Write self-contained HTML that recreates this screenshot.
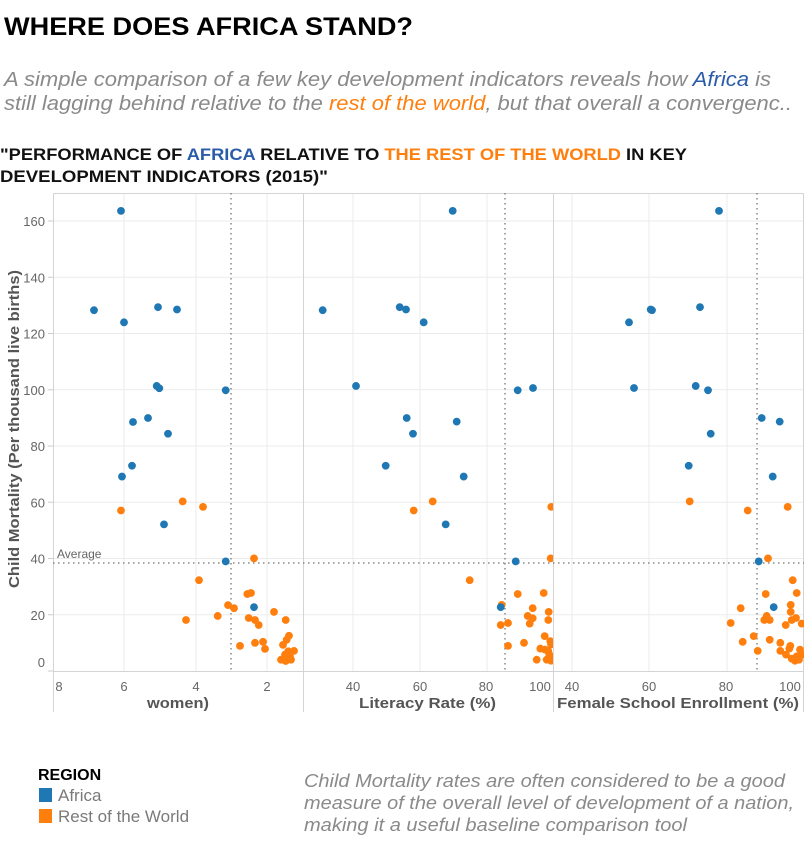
<!DOCTYPE html>
<html><head><meta charset="utf-8"><style>
html,body{margin:0;padding:0;background:#fff;}
svg{display:block;font-family:"Liberation Sans",Arial,sans-serif;}
</style></head><body>
<svg id="s" width="804" height="846" viewBox="0 0 804 846" xmlns="http://www.w3.org/2000/svg">
<defs>
<clipPath id="c1"><rect x="53" y="193" width="250" height="479"/></clipPath>
<clipPath id="c2"><rect x="303" y="193" width="250" height="479"/></clipPath>
<clipPath id="c3"><rect x="553" y="193" width="251" height="479"/></clipPath>
</defs>
<text x="4" y="35" font-size="25" font-weight="bold" fill="#000" textLength="409" lengthAdjust="spacingAndGlyphs">WHERE DOES AFRICA STAND?</text>
<text x="4" y="86" font-size="20" font-style="italic" fill="#8a8a8a" textLength="767" lengthAdjust="spacingAndGlyphs">A simple comparison of a few key development indicators reveals how <tspan fill="#2a5caa">Africa</tspan> is</text>
<text x="4" y="110" font-size="20" font-style="italic" fill="#8a8a8a" textLength="788" lengthAdjust="spacingAndGlyphs">still lagging behind relative to the <tspan fill="#ff7f0e">rest of the world</tspan>, but that overall a convergenc..</text>
<text x="0" y="160" font-size="17" font-weight="bold" fill="#111" textLength="687" lengthAdjust="spacingAndGlyphs">"PERFORMANCE OF <tspan fill="#2a5caa">AFRICA</tspan> RELATIVE TO <tspan fill="#ff7f0e">THE REST OF THE WORLD</tspan> IN KEY</text>
<text x="0" y="182" font-size="17" font-weight="bold" fill="#111" textLength="328" lengthAdjust="spacingAndGlyphs">DEVELOPMENT INDICATORS (2015)"</text>
<g id="grid" stroke="#ebebeb" stroke-width="1"></g>
<g stroke="#d4d4d4" stroke-width="1" fill="none">
<line x1="53" y1="193.5" x2="804" y2="193.5"/>
<line x1="53.5" y1="193" x2="53.5" y2="712"/>
<line x1="303.5" y1="193" x2="303.5" y2="712"/>
<line x1="553.5" y1="193" x2="553.5" y2="712"/>
<line x1="803.5" y1="193" x2="803.5" y2="712"/>
<line x1="53" y1="671.5" x2="804" y2="671.5"/>
</g>
<g stroke="#888" stroke-width="1.5" stroke-dasharray="1.5,3.5">
<line x1="53" y1="563" x2="804" y2="563"/>
<line x1="231" y1="193" x2="231" y2="672"/>
<line x1="505" y1="193" x2="505" y2="672"/>
<line x1="757" y1="193" x2="757" y2="672"/>
</g>
<text x="57" y="558" font-size="12" fill="#666">Average</text>
<g id="yl" font-size="13" fill="#666" text-anchor="end"></g>
<g font-size="13" fill="#666" text-anchor="middle">
<text x="59" y="691">8</text><text x="124" y="691">6</text><text x="196" y="691">4</text><text x="267" y="691">2</text>
<text x="353" y="691">40</text><text x="420" y="691">60</text><text x="486" y="691">80</text><text x="540" y="691">100</text>
<text x="572" y="691">40</text><text x="649" y="691">60</text><text x="726" y="691">80</text><text x="790" y="691">100</text>
</g>
<g font-size="15" font-weight="bold" fill="#555">
<text x="147" y="708" textLength="62" lengthAdjust="spacingAndGlyphs">women)</text>
<text x="359" y="708" textLength="137" lengthAdjust="spacingAndGlyphs">Literacy Rate (%)</text>
<text x="557" y="708" textLength="242" lengthAdjust="spacingAndGlyphs">Female School Enrollment (%)</text>
<text transform="translate(19,429) rotate(-90)" text-anchor="middle" textLength="318" lengthAdjust="spacingAndGlyphs">Child Mortality (Per thousand live births)</text>
</g>
<g id="d1" clip-path="url(#c1)"></g>
<g id="d2" clip-path="url(#c2)"></g>
<g id="d3" clip-path="url(#c3)"></g>
<text x="38" y="780" font-size="16" font-weight="bold" fill="#000">REGION</text>
<rect x="39" y="788" width="13" height="14" fill="#1f77b4"/>
<text x="58" y="801" font-size="17" fill="#7a7a7a">Africa</text>
<rect x="39" y="809" width="13" height="14" fill="#ff7f0e"/>
<text x="58" y="822" font-size="17" fill="#7a7a7a">Rest of the World</text>
<g font-size="18" font-style="italic" fill="#8a8a8a">
<text x="304" y="787" textLength="481" lengthAdjust="spacingAndGlyphs">Child Mortality rates are often considered to be a good</text>
<text x="304" y="809" textLength="490" lengthAdjust="spacingAndGlyphs">measure of the overall level of development of a nation,</text>
<text x="304" y="831" textLength="383" lengthAdjust="spacingAndGlyphs">making it a useful baseline comparison tool</text>
</g>
</svg>
<script>
var NS="http://www.w3.org/2000/svg";
function el(t,a,p){var e=document.createElementNS(NS,t);for(var k in a)e.setAttribute(k,a[k]);p.appendChild(e);return e;}
var grid=document.getElementById("grid"),yl=document.getElementById("yl");
for(var v=0;v<=160;v+=20){var y=671-v*2.8125;
 if(v>0)el("line",{x1:53,y1:y,x2:804,y2:y},grid);
 el("line",{x1:48,y1:y,x2:53,y2:y,stroke:"#ccc"},grid);
 var t=el("text",{x:45,y:(v==0?667:y+5)},yl);t.textContent=v;}
[124,196,267,353,420,487,572,649,727].forEach(function(x){el("line",{x1:x,y1:193,x2:x,y2:672},grid);});
function Y(y){return 190+(y-190)*1.0101;}
var B="#1f77b4",O="#ff7f0e";
var p1b=[[121,210.7],[94,309],[124,321],[158,306],[177,308.3],[156.7,384],[159.3,386.3],[225.7,388.3],[133,419.7],[148,415.7],[168,431.3],[132,463],[122,473.7],[164,521],[225.7,557.7],[254,603]];
var p1o=[[121,507.3],[182.7,498.3],[203,503.7],[254,554.7],[199,576.3],[186,615.7],[217.7,611.7],[228,601],[234,604],[247.3,590],[251,589],[248.7,613.7],[255,615.7],[258.7,620.7],[274,607.7],[285.7,615.7],[240,641.3],[255,638.3],[263,637.3],[265,644.3],[283,640.3],[289,631.3],[286.7,635.3],[294,646.3],[281,655],[285.7,656.3],[291,655],[285,650],[288.3,646.7],[290,651.7]];
var p2b=[[452.7,210.7],[322.7,309],[399.7,306],[406,308.3],[423.7,321],[356,384],[517.7,388.3],[533,386],[406.7,415.7],[456.7,419.3],[413,431.3],[385.7,463],[463.7,473.7],[445.7,521],[515.7,557.7],[500.7,603]];
var p2o=[[432.7,498.3],[413.7,507.3],[551.3,503.7],[550.7,554.7],[469.7,576.3],[517.7,590],[543.7,589],[501.7,600.7],[532.7,604],[548.7,607.7],[527.7,611.7],[532.7,614],[548.3,615.7],[529.7,619.3],[508,618.7],[500.7,620.7],[544.7,631.7],[550.3,636.7],[524,638.3],[508,641.3],[540.3,644],[545,645],[536.7,655],[546.7,655],[549.3,650],[548.3,646.7],[551,640],[551,652],[551,656]];
var p3b=[[719,210.7],[629,321],[650.7,308.3],[652,309],[700,306],[634,386],[695.7,384],[708,388.3],[761.7,415.7],[779.7,419.3],[710.7,431.3],[688.7,463],[772.7,473.7],[758.7,557.7],[773.7,603]];
var p3o=[[689.7,498.3],[747.7,507.3],[787.7,503.7],[768,554.7],[792.7,576.3],[765.7,590],[796.7,589],[740.7,604],[790.7,600.7],[790.7,607.7],[730.7,618.7],[766.7,611.7],[764.3,615.7],[769.7,615.7],[791.7,615.7],[796,613.7],[785.7,620.7],[801.7,619.3],[753.7,631.7],[742.7,637.3],[769.7,635.3],[780.3,638.3],[790.3,641.3],[757.7,646.3],[780.3,646.3],[789.3,644],[786,650],[791.7,654],[796.7,651.7],[800,645],[799,655],[795,656],[802,650]];
function draw(id,b,o){var g=document.getElementById(id);
 o.forEach(function(p){el("circle",{cx:p[0],cy:Y(p[1]),r:3.9,fill:O},g);});
 b.forEach(function(p){el("circle",{cx:p[0],cy:Y(p[1]),r:3.9,fill:B},g);});}
draw("d1",p1b,p1o);draw("d2",p2b,p2o);draw("d3",p3b,p3o);
</script>
</body></html>
